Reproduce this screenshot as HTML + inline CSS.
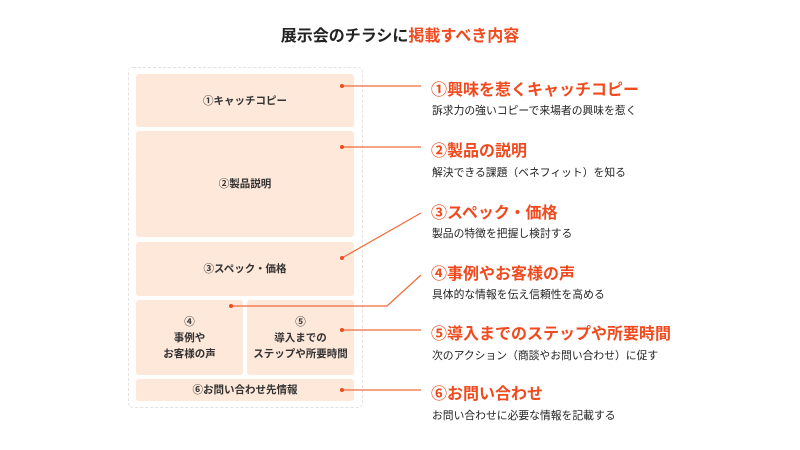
<!DOCTYPE html>
<html><head><meta charset="utf-8"><style>
body{margin:0;width:800px;height:450px;background:#fff;font-family:"Liberation Sans","Noto Sans CJK JP",sans-serif;position:relative;overflow:hidden}
.t{position:absolute;white-space:nowrap}
.box{position:absolute;background:#fde8da;border-radius:3px;display:flex;align-items:center;justify-content:center;text-align:center;font-size:10.5px;font-weight:bold;color:#333;line-height:16px}
.h{position:absolute;left:431px;font-size:16px;font-weight:bold;color:#f04a1e;white-space:nowrap}
.s{position:absolute;left:432px;font-size:10.8px;color:#222;white-space:nowrap}
</style></head><body>
<div class="t" style="left:0;width:800px;text-align:center;top:22px;font-size:16px;font-weight:bold;color:#222">展示会のチラシに<span style="color:#f04a1e">掲載すべき内容</span></div>
<div style="position:absolute;left:128px;top:67px;width:233px;height:339px;border:1px dashed #e2e2e2;border-radius:5px"></div>
<div class="box" style="left:136px;top:74px;width:218px;height:53px">①キャッチコピー</div>
<div class="box" style="left:136px;top:131px;width:218px;height:106px">②製品説明</div>
<div class="box" style="left:136px;top:242px;width:218px;height:54px">③スペック・価格</div>
<div class="box" style="left:136px;top:300px;width:107px;height:75px">④<br>事例や<br>お客様の声</div>
<div class="box" style="left:247px;top:300px;width:107px;height:75px">⑤<br>導入までの<br>ステップや所要時間</div>
<div class="box" style="left:136px;top:379px;width:218px;height:22px">⑥お問い合わせ先情報</div>
<svg style="position:absolute;left:0;top:0" width="800" height="450">
<g stroke="#f26a3a" stroke-width="1.2" fill="none">
<line x1="342" y1="86" x2="421" y2="86"/>
<line x1="342" y1="147" x2="421" y2="147"/>
<line x1="342" y1="258" x2="421" y2="213"/>
<polyline points="231,306 387,306 421,275"/>
<line x1="342" y1="330" x2="421" y2="330"/>
<line x1="342" y1="390" x2="421" y2="390"/>
</g>
<g fill="#f04a1e">
<circle cx="342" cy="86" r="2"/><circle cx="342" cy="147" r="2"/><circle cx="342" cy="258" r="2"/>
<circle cx="231" cy="306" r="2"/><circle cx="342" cy="330" r="2"/><circle cx="342" cy="390" r="2"/>
</g></svg>
<div class="h" style="top:76px">①興味を惹くキャッチコピー</div>
<div class="s" style="top:102px">訴求力の強いコピーで来場者の興味を惹く</div>
<div class="h" style="top:137px">②製品の説明</div>
<div class="s" style="top:164px">解決できる課題（ベネフィット）を知る</div>
<div class="h" style="top:199px">③スペック・価格</div>
<div class="s" style="top:225px">製品の特徴を把握し検討する</div>
<div class="h" style="top:260px">④事例やお客様の声</div>
<div class="s" style="top:286px">具体的な情報を伝え信頼性を高める</div>
<div class="h" style="top:320px">⑤導入までのステップや所要時間</div>
<div class="s" style="top:347px">次のアクション（商談やお問い合わせ）に促す</div>
<div class="h" style="top:380px">⑥お問い合わせ</div>
<div class="s" style="top:407px">お問い合わせに必要な情報を記載する</div>
</body></html>
